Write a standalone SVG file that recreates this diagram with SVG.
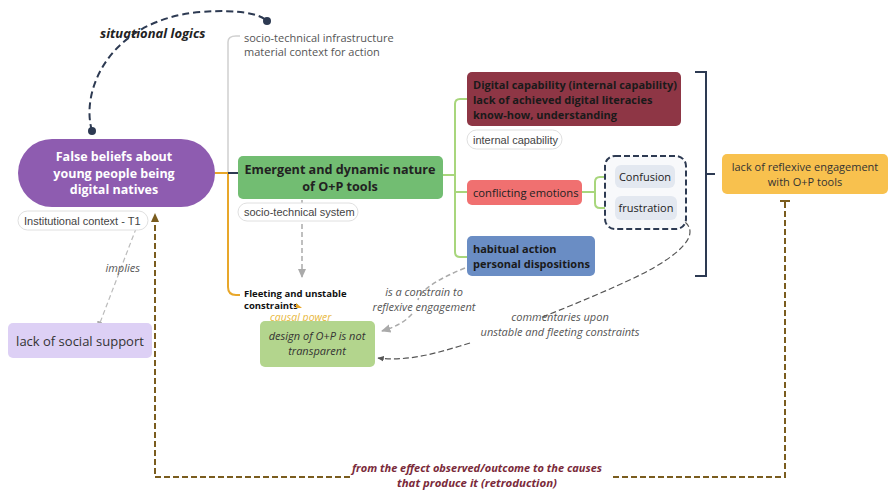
<svg xmlns="http://www.w3.org/2000/svg" width="889" height="493" viewBox="0 0 889 493">
<defs>
<style>
text{font-family:"Open Sans","Noto Sans",sans-serif;}
.b{font-weight:bold;}
.w{fill:#fff;}
.d{fill:#222;}
.lab{font-family:"Liberation Sans",Arial,sans-serif;font-size:11px;fill:#444;}
.pill{fill:#fff;stroke:#e0e0e0;stroke-width:1;}
.it{font-style:italic;fill:#555;font-size:11px;}
.g{fill:none;stroke:#a8d67c;stroke-width:2;}
</style>
<marker id="ag" viewBox="0 0 10 10" refX="8" refY="5" markerWidth="7" markerHeight="7" orient="auto"><path d="M0,1 L9,5 L0,9 Z" fill="#aaa"/></marker>
<marker id="ad" viewBox="0 0 10 10" refX="8" refY="5" markerWidth="6" markerHeight="6" orient="auto"><path d="M0,1 L9,5 L0,9 Z" fill="#555"/></marker>
<marker id="ab" viewBox="0 0 10 10" refX="8" refY="5" markerWidth="5" markerHeight="5" orient="auto"><path d="M0,1 L9,5 L0,9 Z" fill="#7a5c1e"/></marker>
<marker id="dot" viewBox="0 0 10 10" refX="5" refY="5" markerWidth="5" markerHeight="5"><circle cx="5" cy="5" r="4" fill="#2d3a52"/></marker>
</defs>
<rect width="889" height="493" fill="#fff"/>

<g id="connectors">
<path d="M92,131 C80,90 110,20 200,12 C240,9 260,14 267,21" fill="none" stroke="#2d3a52" stroke-width="2" stroke-dasharray="7,4" marker-start="url(#dot)" marker-end="url(#dot)"/>
<path d="M228,173 V42 Q228,36 236,36 H240" fill="none" stroke="#d0d0d0" stroke-width="1.5"/>
<path d="M215,173 H228 V287 Q228,295 236,295 H240" fill="none" stroke="#e8a72a" stroke-width="2"/>
<path d="M228,173 H238" fill="none" stroke="#2d3a52" stroke-width="2"/>
<path class="g" d="M443,175 H455"/>
<path class="g" d="M455,104 Q455,99 460,99 H467 M455,104 V252 Q455,257 460,257 H467 M455,192 H467"/>
<path class="g" d="M582,192 H595 M595,182 Q595,177 600,177 H615 M595,182 V203 Q595,208 600,208 H615"/>
<path d="M695,72 H706 V276 H695 M706,174 H715" fill="none" stroke="#2d3a52" stroke-width="2"/>
<path d="M302,200 V277" fill="none" stroke="#aaa" stroke-width="1.5" stroke-dasharray="5,3" marker-end="url(#ag)"/>
<path d="M142,213 L98,328" fill="none" stroke="#bbb" stroke-width="1.2" stroke-dasharray="5,3" marker-end="url(#ag)"/>
<path d="M465,268 C440,278 420,290 418,300 M412,314 C405,322 395,327 382,331" fill="none" stroke="#aaa" stroke-width="1.5" stroke-dasharray="5,3" marker-end="url(#ag)"/>
<path d="M685,222 C700,235 680,255 640,275 C610,290 560,310 540,318 M470,343 C440,352 410,362 378,358" fill="none" stroke="#555" stroke-width="1.2" stroke-dasharray="6,3" marker-end="url(#ad)"/>
<path d="M785,202 V477 H610 M350,477 H155 V214" fill="none" stroke="#7a5c1e" stroke-width="2" stroke-dasharray="6,3" marker-end="url(#ab)"/>
<path d="M780,201 H790" stroke="#7a5c1e" stroke-width="2"/>
</g>

<g id="n-situational"><text x="100" y="38" class="b" font-style="italic" font-size="13" fill="#222">situational logics</text></g>

<g id="n-infra">
<text x="244" y="42" font-size="11" fill="#555">socio-technical infrastructure</text>
<text x="244" y="56" font-size="11" fill="#555">material context for action</text>
</g>

<g id="n-false">
<rect x="18" y="139" width="197" height="68" rx="34" fill="#8e5cb0"/>
<text text-anchor="middle" font-size="12.5" class="b w"><tspan x="114" y="161">False beliefs about</tspan><tspan x="114" y="177.5">young people being</tspan><tspan x="114" y="194">digital natives</tspan></text>
</g>

<g id="n-inst">
<rect x="18" y="211" width="130" height="19" rx="9.5" class="pill"/>
<text x="24" y="224.5" class="lab">Institutional context - T1</text>
</g>

<g id="n-emergent">
<rect x="238" y="156" width="205" height="43" rx="5" fill="#72bd72"/>
<text text-anchor="middle" font-size="12.6" class="b d"><tspan x="340" y="174">Emergent and dynamic nature</tspan><tspan x="340" y="191">of O+P tools</tspan></text>
</g>

<g id="n-sts">
<rect x="238" y="203" width="120" height="18" rx="9" class="pill"/>
<text x="244" y="216" class="lab">socio-technical system</text>
</g>

<g id="n-fleeting">
<text font-size="9.5" class="b" fill="#111"><tspan x="244" y="297">Fleeting and unstable</tspan><tspan x="244" y="308.5">constraints</tspan></text>
<path d="M296,303 L302,308 L296,308 Z" fill="#e8a72a"/>
<text x="270" y="321" font-size="10.5" font-style="italic" fill="#e8b840">causal power</text>
</g>

<g id="n-design">
<rect x="260" y="321" width="115" height="46" rx="5" fill="#b3d58d"/>
<text text-anchor="middle" font-size="11" font-style="italic" fill="#333"><tspan x="317" y="340">design of O+P is not</tspan><tspan x="317" y="355">transparent</tspan></text>
</g>

<g id="n-social">
<rect x="8" y="323" width="144" height="35" rx="5" fill="#ddd0f5"/>
<text x="80" y="345.5" text-anchor="middle" font-size="13" fill="#333">lack of social support</text>
</g>

<g id="n-digital">
<rect x="467" y="72" width="214" height="54" rx="5" fill="#8e3645"/>
<text font-size="11" class="b" fill="#1a1a1a"><tspan x="473" y="89">Digital capability (internal capability)</tspan><tspan x="473" y="104">lack of achieved digital literacies</tspan><tspan x="473" y="119">know-how, understanding</tspan></text>
</g>

<g id="n-internal">
<rect x="467" y="130" width="95" height="19" rx="9.5" class="pill"/>
<text x="473" y="143.5" class="lab">internal capability</text>
</g>

<g id="n-conflict">
<rect x="467" y="180" width="115" height="25" rx="5" fill="#f07070"/>
<text x="473" y="196.5" font-size="11.2" fill="#222">conflicting emotions</text>
</g>

<g id="n-habitual">
<rect x="467" y="236" width="128" height="40" rx="5" fill="#6a8dc4"/>
<text font-size="11" class="b" fill="#1a1a1a"><tspan x="473" y="253">habitual action</tspan><tspan x="473" y="268">personal dispositions</tspan></text>
</g>

<g id="n-emotions-group">
<rect x="605" y="156" width="81" height="73" rx="10" fill="#f8f9fb" stroke="#2d3a52" stroke-width="2" stroke-dasharray="6,3"/>
</g>
<g id="n-confusion">
<rect x="615" y="165" width="60" height="23" rx="6" fill="#e3e8f0"/>
<text x="645" y="181" text-anchor="middle" font-size="11" fill="#222">Confusion</text>
</g>
<g id="n-frustration">
<rect x="615" y="196" width="62" height="24" rx="6" fill="#e3e8f0"/>
<text x="646" y="212" text-anchor="middle" font-size="11" fill="#222">frustration</text>
</g>

<g id="n-reflexive">
<rect x="722" y="154" width="166" height="40" rx="5" fill="#f8c14e"/>
<text text-anchor="middle" font-size="11" fill="#333"><tspan x="805" y="171">lack of reflexive engagement</tspan><tspan x="805" y="186">with O+P tools</tspan></text>
</g>

<g id="labels">
<text x="140" y="272" text-anchor="end" class="it">implies</text>
<text text-anchor="middle" class="it"><tspan x="424" y="296">is a constrain to</tspan><tspan x="424" y="311">reflexive engagement</tspan></text>
<text text-anchor="middle" class="it"><tspan x="560" y="321">commentaries upon</tspan><tspan x="560" y="336">unstable and fleeting constraints</tspan></text>
<text text-anchor="middle" font-size="11" class="b" font-style="italic" fill="#7a2a3a"><tspan x="477" y="472" textLength="250" lengthAdjust="spacingAndGlyphs">from the effect observed/outcome to the causes</tspan><tspan x="477" y="487" textLength="160" lengthAdjust="spacingAndGlyphs">that produce it (retroduction)</tspan></text>
</g>
</svg>
